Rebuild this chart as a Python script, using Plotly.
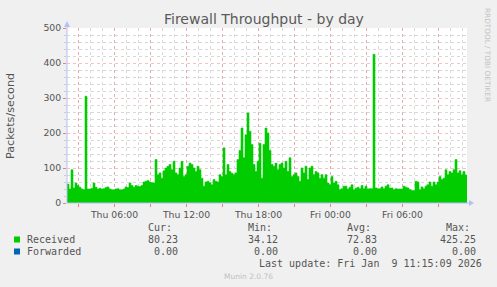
import pandas as pd
import plotly.graph_objects as go

# ---- data (packets/second, 10-minute samples) ----
start_time = "2026-01-08 02:02:30"
received = [
    54, 40, 95, 43, 57, 50, 45, 40, 38, 305, 40, 40, 42, 57, 45, 40, 42, 40, 41, 44,
    46, 40, 38, 38, 40, 41, 38, 37, 40, 46, 44, 57, 50, 45, 50, 48, 47, 50, 60, 62,
    64, 60, 58, 57, 124, 81, 86, 71, 92, 100, 105, 110, 95,
    119, 86, 81, 100, 119, 76, 81, 105, 114, 110, 100, 90, 105, 95, 71, 48, 60, 62, 58, 52,
    67, 62, 60, 81, 76, 157, 81, 110, 90, 85, 81, 86, 124, 150, 214, 129, 195, 257, 205, 167,
    110, 90, 119, 171, 71, 167, 214, 200, 150, 110,
    105, 114, 95, 110, 114, 100, 119, 90, 129, 76, 81, 86, 76, 62, 100, 86, 105, 67, 100, 105,
    81, 90, 86, 71, 81, 71, 81, 57, 52, 76, 57, 62, 52, 38, 41, 48, 48, 40, 45, 52,
    38, 42, 45, 41, 50, 41, 48, 40, 41, 41,
    425, 43, 41, 41, 46, 41, 48, 52, 43, 43, 38, 41, 40, 40, 40, 48, 45, 43, 38, 36,
    36, 62, 60, 38, 46, 41, 48, 52, 60, 48, 60, 52, 60, 76, 67, 71, 95, 81, 90, 86,
    95, 124, 86, 92, 81, 90, 80, 80,
]
times = pd.date_range(start_time, periods=len(received), freq="10min")

x_range = ["2026-01-08 02:02:30", "2026-01-09 11:22:30"]
tick_vals = ["2026-01-08 03:00", "2026-01-08 06:00", "2026-01-08 09:00", "2026-01-08 12:00",
             "2026-01-08 15:00", "2026-01-08 18:00", "2026-01-08 21:00", "2026-01-09 00:00",
             "2026-01-09 03:00", "2026-01-09 06:00", "2026-01-09 09:00"]
tick_text = ["", "Thu 06:00", "", "Thu 12:00", "", "Thu 18:00", "", "Fri 00:00", "", "Fri 06:00", ""]

series_names = ["Received", "Forwarded"]
series_colors = ["#00CC00", "#0066B3"]
cur_vals = ["80.23", "0.00"]
min_vals = ["34.12", "0.00"]
avg_vals = ["72.83", "0.00"]
max_vals = ["425.25", "0.00"]
col_heads = ["Cur:", "Min:", "Avg:", "Max:"]
last_update = "Last update: Fri Jan  9 11:15:09 2026"

# ---- layout geometry (pixels) ----
W, H = 497, 287
L, R, T, B = 67, 467, 28, 203


def px(x):
    return (x - L) / (R - L)


def py(y):
    return (B - y) / (B - T)


TXT = "#555555"
MAJ = "rgba(235,110,110,0.42)"
MIN = "rgba(160,160,160,0.40)"
AX = "#B4C0F2"

fig = go.Figure()
fig.add_trace(go.Scatter(
    x=times, y=received, mode="lines", line=dict(color="#00CC00", width=0.6, shape="hv"),
    fill="tozeroy", fillcolor="#00CC00", name="Received", hoverinfo="x+y",
))

fig.update_layout(
    width=W, height=H,
    margin=dict(l=L, r=W - R, t=T, b=H - B, pad=0),
    paper_bgcolor="#F0F0F0", plot_bgcolor="#FFFFFF",
    showlegend=False,
    font=dict(family="DejaVu Sans", color=TXT, size=9.3),
    xaxis=dict(
        type="date", range=x_range, tickmode="array", tickvals=tick_vals, ticktext=tick_text,
        showgrid=True, gridcolor=MAJ, griddash="dot", gridwidth=1,
        ticks="outside", ticklen=3, tickcolor="#E88080", tickwidth=1,
        tickfont=dict(size=9.3, color=TXT, family="DejaVu Sans"),
        showline=False, zeroline=False,
        minor=dict(dtick=3600000, tick0="2026-01-08 00:00", showgrid=True,
                   gridcolor=MIN, griddash="dot", gridwidth=1, ticks=""),
    ),
    yaxis=dict(
        range=[0, 500], tickmode="linear", tick0=0, dtick=100,
        showgrid=True, gridcolor=MAJ, griddash="dot", gridwidth=1,
        ticks="outside", ticklen=3, tickcolor="#E88080", tickwidth=1,
        tickfont=dict(size=9.3, color=TXT, family="DejaVu Sans"),
        showline=False, zeroline=False,
        minor=dict(dtick=20, showgrid=True, gridcolor=MIN, griddash="dot", gridwidth=1,
                   ticks="outside", ticklen=2, tickcolor="#CCCCCC"),
    ),
)

shapes = []
# axes with arrows
shapes.append(dict(type="line", xref="paper", yref="paper", x0=px(L), x1=px(470), y0=py(B), y1=py(B),
                   line=dict(color=AX, width=1)))
shapes.append(dict(type="line", xref="paper", yref="paper", x0=px(L), x1=px(L), y0=py(B), y1=py(25),
                   line=dict(color=AX, width=1)))
shapes.append(dict(type="path", xref="paper", yref="paper",
                   path=f"M {px(469)} {py(200)} L {px(474)} {py(203)} L {px(469)} {py(206)} Z",
                   fillcolor=AX, line=dict(color=AX, width=0)))
shapes.append(dict(type="path", xref="paper", yref="paper",
                   path=f"M {px(64)} {py(27)} L {px(67)} {py(21)} L {px(70)} {py(27)} Z",
                   fillcolor=AX, line=dict(color=AX, width=0)))
# legend squares
rows_y = [239.5, 251.5]
for c, yy in zip(series_colors, rows_y):
    shapes.append(dict(type="rect", xref="paper", yref="paper", x0=px(14), x1=px(20),
                       y0=py(yy - 3), y1=py(yy + 3), fillcolor=c, line=dict(width=0)))
fig.update_layout(shapes=shapes)

ann = []
ann.append(dict(text="Firewall Throughput - by day", x=px(264), y=py(18.5), xref="paper", yref="paper",
                showarrow=False, xanchor="center", yanchor="middle",
                font=dict(family="DejaVu Sans", size=14, color="#5a5a5a")))
ann.append(dict(text="Packets/second", x=px(10), y=py(116), xref="paper", yref="paper",
                showarrow=False, xanchor="center", yanchor="middle", textangle=-90,
                font=dict(family="DejaVu Sans", size=11.2, color=TXT)))
ann.append(dict(text="RRDTOOL / TOBI OETIKER", x=px(487), y=py(55), xref="paper", yref="paper",
                showarrow=False, xanchor="center", yanchor="middle", textangle=90,
                font=dict(family="DejaVu Sans", size=7.3, color="#C4C4C4")))

MONO = dict(family="DejaVu Sans Mono", size=10, color=TXT)
col_right = [179, 278.5, 377.5, 476.5]
for h, xr in zip(col_heads, col_right):
    ann.append(dict(text=h, x=px(xr - 6), y=py(227.5), xref="paper", yref="paper", showarrow=False,
                    xanchor="right", yanchor="middle", borderpad=0, font=MONO))
for i, name in enumerate(series_names):
    ann.append(dict(text=name, x=px(26), y=py(rows_y[i]), xref="paper", yref="paper", showarrow=False,
                    xanchor="left", yanchor="middle", borderpad=0, font=MONO))
    for vals, xr in zip([cur_vals, min_vals, avg_vals, max_vals], col_right):
        ann.append(dict(text=vals[i], x=px(xr), y=py(rows_y[i]), xref="paper", yref="paper",
                        showarrow=False, xanchor="right", yanchor="middle", borderpad=0, font=MONO))
ann.append(dict(text=last_update.replace(" ", "&nbsp;"), x=px(483), y=py(263.5), xref="paper", yref="paper",
                showarrow=False, xanchor="right", yanchor="middle", borderpad=0, font=MONO))
ann.append(dict(text="Munin 2.0.76", x=px(248), y=py(276.5), xref="paper", yref="paper",
                showarrow=False, xanchor="center", yanchor="middle", borderpad=0,
                font=dict(family="DejaVu Sans", size=7.5, color="#C0C0C0")))
fig.update_layout(annotations=ann)

fig.write_html("out.html")
